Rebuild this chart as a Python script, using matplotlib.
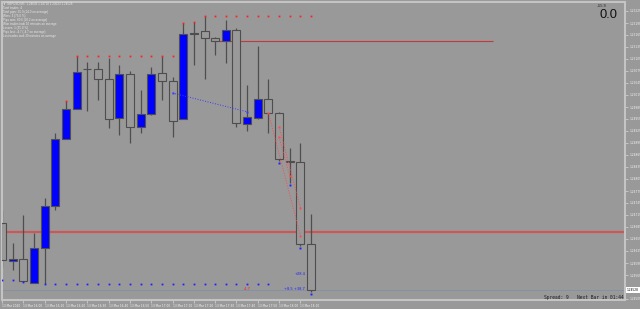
import numpy as np
import matplotlib.pyplot as plt

# GBPUSD M5 candles
opens = [1.24695, 1.24601, 1.24605, 1.24545, 1.24632, 1.24738, 1.24905, 1.24980, 1.25080, 1.25080,
         1.25055, 1.24958, 1.25068, 1.24935, 1.24968, 1.25070, 1.25050, 1.24955, 1.25168, 1.25175,
         1.25158, 1.25150, 1.25178, 1.24943, 1.24958, 1.25005, 1.24970, 1.24850, 1.24848, 1.24643]
highs = [1.24728, 1.24645, 1.24715, 1.24670, 1.24758, 1.24920, 1.25000, 1.25113, 1.25098, 1.25098,
         1.25108, 1.25090, 1.25075, 1.25028, 1.25085, 1.25113, 1.25060, 1.25195, 1.25198, 1.25213,
         1.25160, 1.25203, 1.25183, 1.25040, 1.25137, 1.25055, 1.24973, 1.24883, 1.24895, 1.24718]
lows = [1.24585, 1.24578, 1.24548, 1.24545, 1.24543, 1.24728, 1.24905, 1.24980, 1.24975, 1.25003,
        1.24933, 1.24915, 1.24895, 1.24920, 1.24965, 1.25003, 1.24910, 1.24955, 1.25090, 1.25055,
        1.25115, 1.25095, 1.24935, 1.24925, 1.24955, 1.24920, 1.24850, 1.24795, 1.24638, 1.24523]
closes = [1.24603, 1.24604, 1.24550, 1.24632, 1.24738, 1.24905, 1.24980, 1.25073, 1.25079, 1.25055,
          1.24955, 1.25068, 1.24935, 1.24968, 1.25068, 1.25050, 1.24950, 1.25168, 1.25170, 1.25158,
          1.25150, 1.25178, 1.24945, 1.24960, 1.25005, 1.24970, 1.24855, 1.24848, 1.24643, 1.24528]

# indicator dots: (first bar, last bar, level)
res_start = [6, 7, 17, 18, 19]
res_end = [6, 16, 17, 18, 29]
res_level = [1.25000, 1.25113, 1.25195, 1.25198, 1.25213]
sup_start = [0, 2, 4]
sup_end = [1, 2, 25]
sup_level = [1.24553, 1.24548, 1.24543]
low_idx = [26, 27, 28, 29]
low_mark = [1.24845, 1.24790, 1.24633, 1.24517]

# trade arrows (bar, price) -> (bar, price)
buy_from = [(16, 1.25020)]
buy_to = [(23, 1.24973)]
sell_from = [(25, 1.24970), (26, 1.24935), (26, 1.24910)]
sell_to = [(28, 1.24663), (28, 1.24733), (27, 1.24813)]

red_level = 1.24672
top_level = 1.25150
top_level_from, top_level_to = 19.8, 46.1

price_ticks = [1.25225, 1.25195, 1.25165, 1.25135, 1.25105, 1.25075, 1.25045, 1.25015, 1.24985,
               1.24955, 1.24925, 1.24895, 1.24865, 1.24835, 1.24805, 1.24775, 1.24745, 1.24715,
               1.24685, 1.24655, 1.24625, 1.24595, 1.24565, 1.24505]
time_labels = ["13 Mar 2020", "13 Mar 16:00", "13 Mar 16:10", "13 Mar 16:20", "13 Mar 16:30",
               "13 Mar 16:40", "13 Mar 16:50", "13 Mar 17:00", "13 Mar 17:10", "13 Mar 17:20",
               "13 Mar 17:30", "13 Mar 17:40", "13 Mar 17:50", "13 Mar 18:00", "13 Mar 18:10"]

info_lines = ["\u25bc GBPUSD,M5  1.24643 1.24718 1.24523 1.24528",
              "Total trades: 4",
              "Total pips: 55.9 (14.0 on average)",
              "Wins: 3 (75.0 %)",
              "Pips won: 60.6 (20.2 on average)",
              "Won trades took 10 minutes on average",
              "Losses: 1 (25.0 %)",
              "Pips lost: -4.7 (-4.7 on average)",
              "Lost trades took 30 minutes on average"]

bg = '#999999'
edge = '#4e4e4e'
W, H = 640, 309

fig = plt.figure(figsize=(6.4, 3.09), dpi=100, facecolor=bg)
ax = fig.add_axes([2 / W, 9 / H, 623 / W, 298 / H])
ax.set_facecolor(bg)

o = np.array(opens)
c = np.array(closes)
x = np.arange(len(o))
bull = c > o

ax.vlines(x, lows, highs, color=edge, lw=0.9, zorder=2)
body_lo = np.minimum(o, c)
body_h = np.maximum(np.abs(c - o), 0.00001)
ax.bar(x[bull], body_h[bull], bottom=body_lo[bull], width=0.75,
       color='#0000ff', edgecolor=edge, lw=0.8, zorder=3)
ax.bar(x[~bull], body_h[~bull], bottom=body_lo[~bull], width=0.75,
       color=bg, edgecolor=edge, lw=0.8, zorder=3)

# levels
ax.axhline(red_level, color='#cf5656', lw=1.6, zorder=1)
ax.axhline(closes[-1], color='#7f90a6', lw=0.6, zorder=1)
ax.hlines(top_level, top_level_from, top_level_to, color='#c23a3a', lw=0.8, zorder=1)

# indicator dots
for s, e, lv in zip(res_start, res_end, res_level):
    xs = np.arange(s, e + 1)
    ax.plot(xs, np.full(len(xs), lv), 's', color='#ff2020', ms=1.3, mew=0, zorder=4)
for s, e, lv in zip(sup_start, sup_end, sup_level):
    xs = np.arange(s, e + 1)
    ax.plot(xs, np.full(len(xs), lv), 's', color='#2020ff', ms=1.3, mew=0, zorder=4)
ax.plot(low_idx, low_mark, 's', color='#2020ff', ms=1.4, mew=0, zorder=4)

# trades
for (x0, y0), (x1, y1) in zip(buy_from, buy_to):
    ax.plot([x0, x1], [y0, y1], ':', color='#3a3aff', lw=0.7, zorder=4)
    ax.plot([x0, x1], [y0, y1], 's', color='#3a3aff', ms=1.4, mew=0, zorder=5)
for (x0, y0), (x1, y1) in zip(sell_from, sell_to):
    ax.plot([x0, x1], [y0, y1], ':', color='#ff4a4a', lw=0.7, zorder=4)
    ax.plot([x0, x1], [y0, y1], 's', color='#ff4a4a', ms=1.4, mew=0, zorder=5)

ax.text(23, 1.24530, "-4.7", color='#ff2020', fontsize=2.6, ha='center', va='center')
ax.text(28.45, 1.24567, "+28.4", color='#2020ff', fontsize=2.6, ha='right', va='center')
ax.text(28.45, 1.24530, "+8.5 +38.7", color='#2020ff', fontsize=2.6, ha='right', va='center')

ax.set_xlim(0.063, 58.45)
ax.set_ylim(1.245025, 1.252475)

# axes styling
for sp in ax.spines.values():
    sp.set_color('#c4c4c4')
    sp.set_linewidth(1.5)
ax.yaxis.tick_right()
ax.set_yticks(price_ticks)
ax.set_yticklabels([f"{p:.5f}" for p in price_ticks])
ax.tick_params(axis='y', length=2, width=0.5, colors='#d8d8d8', labelsize=2.1,
               labelcolor='#f2f2f2', pad=1)
ax.set_xticks(np.arange(0, 29, 2))
ax.set_xticklabels(time_labels, ha='left')
ax.tick_params(axis='x', length=2, width=0.5, colors='#d8d8d8', labelsize=2.1,
               labelcolor='#f2f2f2', pad=1)

ax.annotate(f"{closes[-1]:.5f}", xy=(1.0, closes[-1]), xycoords=('axes fraction', 'data'),
            xytext=(1.5, 0), textcoords='offset points', fontsize=2.1, color='black',
            va='center', ha='left', annotation_clip=False,
            bbox=dict(boxstyle='square,pad=0.4', fc='white', ec='white', lw=0))

# overlays
fam = ['Liberation Sans', 'DejaVu Sans']
for i, line in enumerate(info_lines):
    fig.text(3 / W, 1 - (4 + 4 * i) / H, line, fontsize=2.2, color='#e8e8e8',
             va='center', ha='left', family=fam)
fig.text(597 / W, 1 - 6 / H, "+55.9", fontsize=2.8, color='#222222', va='center',
         ha='left', family=fam)
fig.text(599 / W, 1 - 15 / H, "0.0", fontsize=9.3, color='#111111', va='center',
         ha='left', family=fam)
fig.text(544 / W, 1 - 297 / H, "Spread: 9   Next Bar in 01:44", fontsize=3.3,
         color='#1a1a1a', va='center', ha='left', family='DejaVu Sans Mono')

fig.savefig('out.png', dpi=100, facecolor=bg)
